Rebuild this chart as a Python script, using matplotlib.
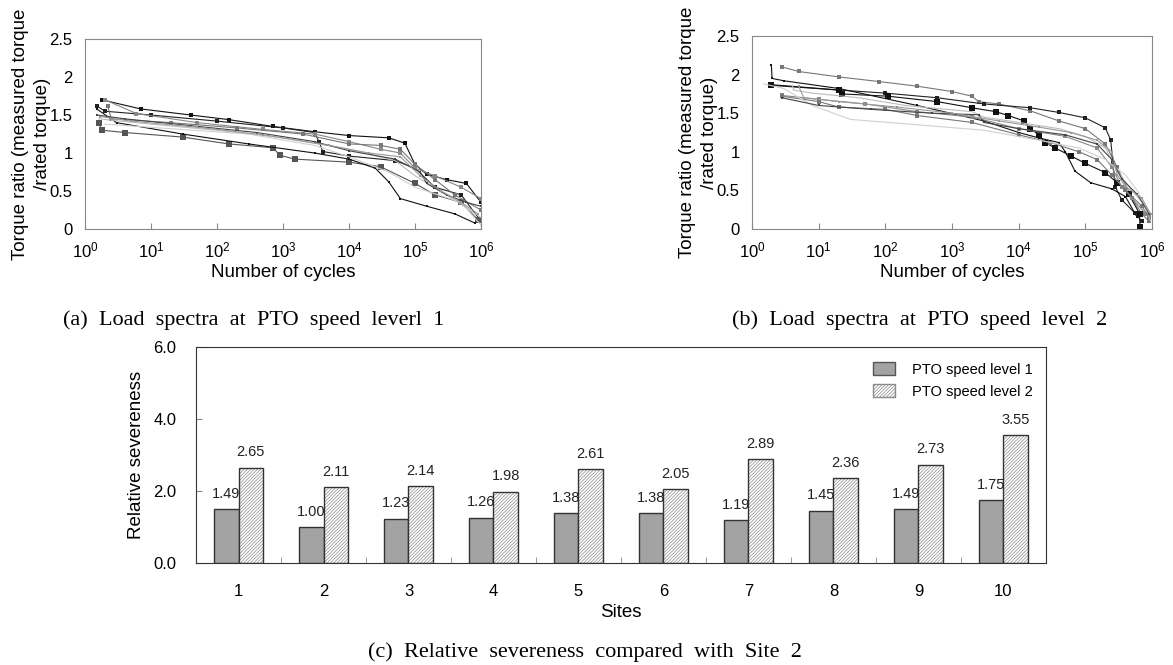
import matplotlib
matplotlib.use("Agg")
import matplotlib.pyplot as plt
from matplotlib.patches import Patch
from matplotlib.ticker import FuncFormatter, FixedLocator
import numpy as np

plt.rcParams['font.family'] = ['Liberation Sans', 'DejaVu Sans']
plt.rcParams['hatch.linewidth'] = 0.5

# ---- (a) load spectra, PTO speed level 1 : (cycles, torque ratio) per site
a_n1 = [1.8, 7, 40, 150, 700, 3000, 1e4, 4e4, 7e4, 1e5, 1.5e5, 3e5, 6e5, 1e6]
a_t1 = [1.70, 1.58, 1.50, 1.44, 1.35, 1.28, 1.23, 1.20, 1.13, 0.85, 0.72, 0.65, 0.60, 0.35]
a_n2 = [1.5, 2, 10, 100, 1000, 3000, 3500, 4000, 1e4, 5e4, 1e5, 2e5, 5e5, 1e6]
a_t2 = [1.62, 1.55, 1.50, 1.42, 1.33, 1.27, 1.15, 1.02, 0.96, 0.90, 0.80, 0.55, 0.45, 0.10]
a_n3 = [1.6, 1.8, 4, 30, 150, 700, 900, 1500, 1e4, 3e4, 1e5, 2e5, 5e5, 9e5]
a_t3 = [1.40, 1.30, 1.27, 1.21, 1.12, 1.07, 0.97, 0.92, 0.88, 0.82, 0.60, 0.45, 0.35, 0.12]
a_n4 = [1.5, 3, 30, 300, 3000, 1e4, 2.5e4, 4e4, 6e4, 1.5e5, 4e5, 8e5]
a_t4 = [1.58, 1.40, 1.25, 1.12, 1.00, 0.92, 0.80, 0.62, 0.40, 0.30, 0.20, 0.08]
a_n5 = [2, 6, 50, 500, 3000, 1e4, 3e4, 6e4, 1e5, 2e5, 5e5, 1e6]
a_t5 = [1.70, 1.52, 1.40, 1.31, 1.25, 1.15, 1.05, 1.00, 0.80, 0.70, 0.55, 0.40]
a_n6 = [2.2, 2.5, 20, 200, 2000, 1e4, 3e4, 6e4, 1e5, 2e5, 4e5, 1e6]
a_t6 = [1.62, 1.45, 1.40, 1.33, 1.25, 1.12, 1.10, 1.05, 0.85, 0.65, 0.45, 0.25]
a_n7 = [1.6, 10, 100, 1000, 1e4, 5e4, 1e5, 3e5, 1e6]
a_t7 = [1.45, 1.38, 1.30, 1.20, 1.05, 0.90, 0.70, 0.45, 0.15]
a_n8 = [2, 20, 300, 3000, 1e4, 4e4, 1e5, 5e5, 1e6]
a_t8 = [1.38, 1.32, 1.25, 1.10, 0.95, 0.75, 0.55, 0.35, 0.05]
a_n9 = [1.5, 4, 40, 400, 3000, 1e4, 5e4, 1.2e5, 1.5e5, 3e5, 6e5, 1e6]
a_t9 = [1.50, 1.45, 1.36, 1.27, 1.15, 1.03, 0.92, 0.75, 0.60, 0.45, 0.35, 0.30]
a_n10 = [1.7, 5, 50, 500, 5000, 2e4, 6e4, 1.2e5, 2.5e5, 5e5, 9e5]
a_t10 = [1.48, 1.42, 1.34, 1.24, 1.10, 1.00, 0.95, 0.70, 0.50, 0.35, 0.20]

# ---- (b) load spectra, PTO speed level 2
b_n1 = [2.8, 5, 20, 80, 300, 1000, 2000, 2500, 5000, 1.5e4, 4e4, 1e5, 2e5, 3e5, 5e5, 7e5, 9e5]
b_t1 = [2.10, 2.04, 1.97, 1.91, 1.85, 1.78, 1.72, 1.65, 1.62, 1.53, 1.40, 1.30, 1.10, 0.80, 0.40, 0.20, 0.10]
b_n2 = [2, 20, 100, 600, 3000, 1.5e4, 4e4, 1e5, 2e5, 2.4e5, 2.6e5, 2.8e5, 3.5e5, 5.5e5, 7e5]
b_t2 = [1.86, 1.80, 1.76, 1.70, 1.62, 1.57, 1.51, 1.44, 1.31, 1.15, 0.85, 0.55, 0.38, 0.21, 0.10]
b_n3 = [1.9, 20, 22, 110, 600, 2000, 4500, 7000, 1.2e4, 1.5e4, 2e4, 2.5e4, 3.5e4, 6e4, 1e5, 2e5, 3e5, 4.5e5, 6.5e5, 6.6e5]
b_t3 = [1.87, 1.80, 1.75, 1.72, 1.65, 1.57, 1.52, 1.47, 1.40, 1.30, 1.22, 1.12, 1.05, 0.95, 0.85, 0.73, 0.60, 0.45, 0.20, 0.03]
b_n4 = [1.95, 2, 3, 20, 300, 3000, 1e4, 2e4, 4e4, 5e4, 7e4, 1.2e5, 2.5e5, 4e5, 6e5]
b_t4 = [2.13, 1.95, 1.92, 1.82, 1.60, 1.40, 1.25, 1.18, 1.12, 1.00, 0.75, 0.60, 0.52, 0.42, 0.15]
b_n5 = [2.8, 10, 50, 300, 2000, 1e4, 5e4, 1.5e5, 2.5e5, 3.5e5, 5e5, 8e5]
b_t5 = [1.73, 1.68, 1.62, 1.52, 1.45, 1.30, 1.20, 1.05, 0.80, 0.55, 0.40, 0.20]
b_n6 = [2.8, 10, 20, 100, 300, 2000, 1e4, 3e4, 8e4, 1.5e5, 2.5e5, 4e5, 7e5, 9e5]
b_t6 = [1.72, 1.65, 1.58, 1.55, 1.47, 1.38, 1.22, 1.12, 1.00, 0.90, 0.70, 0.50, 0.30, 0.15]
b_n7 = [4, 4.2, 8, 40, 200, 2000, 3000, 1e4, 4e4, 1e5, 2e5, 3e5, 5e5, 8e5, 9.5e5]
b_t7 = [1.86, 1.80, 1.76, 1.70, 1.60, 1.52, 1.45, 1.38, 1.30, 1.20, 1.05, 0.75, 0.50, 0.30, 0.10]
b_n8 = [1.5, 3, 8, 30, 300, 3000, 2e4, 8e4, 2e5, 4e5, 6e5, 8e5]
b_t8 = [1.88, 1.82, 1.60, 1.42, 1.35, 1.28, 1.15, 1.05, 0.90, 0.70, 0.50, 0.30]
b_n9 = [2.8, 10, 60, 500, 2500, 3000, 1e4, 5e4, 1.5e5, 2.5e5, 3.5e5, 6e5, 9e5]
b_t9 = [1.70, 1.60, 1.55, 1.50, 1.48, 1.38, 1.30, 1.22, 1.10, 0.90, 0.65, 0.45, 0.20]
b_n10 = [5, 6, 20, 150, 1000, 5000, 2e4, 6e4, 1.5e5, 2.5e5, 3e5, 4e5, 7e5, 9.5e5]
b_t10 = [1.85, 1.70, 1.65, 1.58, 1.50, 1.40, 1.32, 1.25, 1.15, 1.00, 0.70, 0.55, 0.40, 0.20]

# ---- (c) relative severeness
sites = ['1', '2', '3', '4', '5', '6', '7', '8', '9', '10']
level1 = [1.49, 1.00, 1.23, 1.26, 1.38, 1.38, 1.19, 1.45, 1.49, 1.75]
level2 = [2.65, 2.11, 2.14, 1.98, 2.61, 2.05, 2.89, 2.36, 2.73, 3.55]

# line styles shared by both spectra panels
styles = [
    dict(color='#111111', marker='s', ms=2.5),
    dict(color='#222222', marker='s', ms=2.5),
    dict(color='#555555', marker='s', ms=5),
    dict(color='#111111', marker='s', ms=2),
    dict(color='#888888', marker='s', ms=2.5),
    dict(color='#777777', marker='s', ms=2.5),
    dict(color='#bbbbbb', marker=None, ms=0),
    dict(color='#d0d0d0', marker=None, ms=0),
    dict(color='#444444', marker='s', ms=2),
    dict(color='#999999', marker='s', ms=2),
]

fig = plt.figure(figsize=(11.73, 6.65), dpi=100)

def spectra(ax, curves, fix_style=None):
    for i, (n, t) in enumerate(curves):
        st = dict(styles[i])
        if fix_style and i in fix_style:
            st.update(fix_style[i])
        ax.plot(n, t, lw=0.8, color=st['color'], marker=st['marker'],
                markersize=st['ms'], markeredgewidth=0)
    ax.set_xscale('log')
    ax.set_xlim(1, 1e6)
    ax.set_ylim(0, 2.5)
    ax.set_yticks([0, 0.5, 1, 1.5, 2, 2.5])
    ax.yaxis.set_major_formatter(FuncFormatter(lambda v, p: '%g' % v))
    ax.xaxis.set_major_locator(FixedLocator([1, 10, 100, 1e3, 1e4, 1e5, 1e6]))
    ax.minorticks_off()
    ax.tick_params(axis='x', direction='in', length=4, color='#888888', labelsize=12, pad=8)
    ax.tick_params(axis='y', length=0, labelsize=12, pad=9)
    for s in ax.spines.values():
        s.set_color('#888888')
    ax.set_xlabel('Number of cycles', fontsize=13.5, labelpad=3)
    ax.set_ylabel('Torque ratio (measured torque\n/rated torque)', fontsize=13.5,
                  labelpad=-1, linespacing=1.35)

ax_a = fig.add_axes([0.0725, 0.6556, 0.3376, 0.2857])
spectra(ax_a, [(a_n1, a_t1), (a_n2, a_t2), (a_n3, a_t3), (a_n4, a_t4), (a_n5, a_t5),
               (a_n6, a_t6), (a_n7, a_t7), (a_n8, a_t8), (a_n9, a_t9), (a_n10, a_t10)])

ax_b = fig.add_axes([0.6411, 0.6556, 0.341, 0.2903])
spectra(ax_b, [(b_n1, b_t1), (b_n2, b_t2), (b_n3, b_t3), (b_n4, b_t4), (b_n5, b_t5),
               (b_n6, b_t6), (b_n7, b_t7), (b_n8, b_t8), (b_n9, b_t9), (b_n10, b_t10)],
        fix_style={0: dict(color='#777777'), 2: dict(color='#111111', ms=5)})

# bar chart
ax_c = fig.add_axes([0.1671, 0.1534, 0.7246, 0.3248])
x = np.arange(1, len(sites) + 1)
w = 0.29
ax_c.bar(x - w / 2, level1, w, color='#a3a3a3', edgecolor='#333333', lw=1)
ax_c.bar(x + w / 2, level2, w, color='white', edgecolor='#8c8c8c', hatch='//////////', lw=0)
ax_c.bar(x + w / 2, level2, w, fill=False, edgecolor='#333333', lw=1)
for xi, v in zip(x, level1):
    ax_c.annotate('%.2f' % v, (xi - w / 2, v), xytext=(0, 6), textcoords='offset points',
                  ha='center', va='bottom', fontsize=10.5, color='#222222')
for xi, v in zip(x, level2):
    ax_c.annotate('%.2f' % v, (xi + w / 2, v), xytext=(0, 6), textcoords='offset points',
                  ha='center', va='bottom', fontsize=10.5, color='#222222')
ax_c.set_xlim(0.5, len(sites) + 0.5)
ax_c.set_ylim(0, 6)
ax_c.set_yticks([0, 2, 4, 6])
ax_c.yaxis.set_major_formatter(FuncFormatter(lambda v, p: '%.1f' % v))
ax_c.set_xticks(x)
ax_c.set_xticklabels(sites)
ax_c.set_xticks(x[:-1] + 0.5, minor=True)
ax_c.tick_params(axis='x', which='major', length=0, labelsize=12, pad=15)
ax_c.tick_params(axis='x', which='minor', direction='in', length=4, color='#888888')
ax_c.tick_params(axis='y', direction='in', length=4, color='#888888', labelsize=12, pad=14)
for s in ax_c.spines.values():
    s.set_color('#333333')
ax_c.set_xlabel('Sites', fontsize=13.5, labelpad=4)
ax_c.set_ylabel('Relative severeness', fontsize=13.5, labelpad=6)
handles = [Patch(facecolor='#a3a3a3', edgecolor='#555555'),
           Patch(facecolor='white', edgecolor='#8a8a8a', hatch='//////////')]
ax_c.legend(handles, ['PTO speed level 1', 'PTO speed level 2'], loc='upper right',
            bbox_to_anchor=(1.0, 0.99), frameon=False, fontsize=10.5,
            handlelength=1.5, handleheight=1.0, handletextpad=1.2, labelspacing=0.5)

# captions
serif = dict(family=['Liberation Serif', 'DejaVu Serif'], fontsize=16, ha='center', va='center')
fig.text(254 / 1173, 1 - 320 / 665, '(a)  Load  spectra  at  PTO  speed  leverl  1', **serif)
fig.text(920 / 1173, 1 - 320 / 665, '(b)  Load  spectra  at  PTO  speed  level  2', **serif)
fig.text(585 / 1173, 1 - 652 / 665, '(c)  Relative  severeness  compared  with  Site  2', **serif)

fig.savefig('out.png', dpi=100)
